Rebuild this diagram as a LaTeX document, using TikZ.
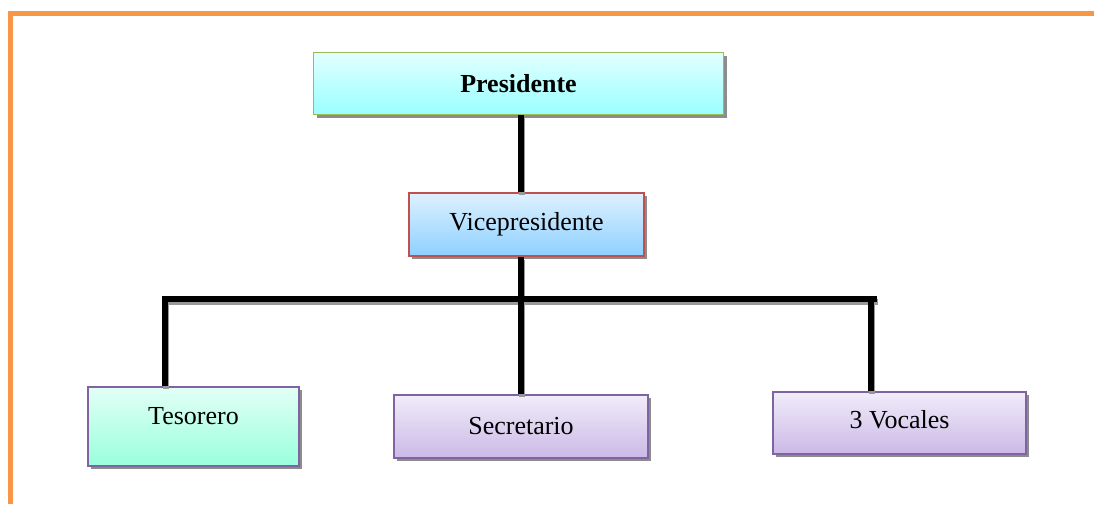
\documentclass[tikz,border=0pt]{standalone}
\usepackage{fontspec}
\setmainfont{Liberation Serif}
\usetikzlibrary{shadows}
\definecolor{frameor}{HTML}{F79646}
\definecolor{bgreen}{HTML}{9BBB59}
\definecolor{bred}{HTML}{C0504D}
\definecolor{bpurple}{HTML}{8064A2}
\definecolor{cyanT}{HTML}{E2FFFF}
\definecolor{cyanB}{HTML}{99FFFF}
\definecolor{blueT}{HTML}{DEF1FF}
\definecolor{blueB}{HTML}{8ED0FF}
\definecolor{mintT}{HTML}{E2FFF6}
\definecolor{mintB}{HTML}{99FFDD}
\definecolor{lilT}{HTML}{F1ECFA}
\definecolor{lilB}{HTML}{CBB9E6}
\tikzset{
  orgbox/.style={rectangle, inner sep=0pt, line width=1.5pt,
    font=\fontsize{26}{30}\selectfont,
    drop shadow={shadow xshift=3pt, shadow yshift=-3pt, fill=black!45, opacity=1}},
  presbox/.style={orgbox, draw=bgreen, top color=cyanT, bottom color=cyanB, font=\fontsize{26}{30}\selectfont\bfseries},
  vpbox/.style={orgbox, draw=bred, top color=blueT, bottom color=blueB},
  tesbox/.style={orgbox, draw=bpurple, top color=mintT, bottom color=mintB},
  lilbox/.style={orgbox, draw=bpurple, top color=lilT, bottom color=lilB},
  conn/.style={line width=6pt, black,
    preaction={draw=black!40, line width=6pt, transform canvas={xshift=1pt, yshift=-3pt}}},
  frameline/.style={line width=5pt, draw=frameor}
}
\begin{document}
\begin{tikzpicture}[x=1pt,y=-1pt]
\useasboundingbox (0,0) rectangle (1094,504);
\draw[frameline] (10.5,504) -- (10.5,13.5) -- (1094,13.5);

\coordinate (barL) at (162,299);
\coordinate (barR) at (877,299);
\coordinate (j1) at (165,299);
\coordinate (j2) at (521,299);
\coordinate (j3) at (871,299);

\node[presbox, minimum width=410pt, minimum height=62pt] (pres) at (518.5,83.5) {Presidente};
\node[vpbox, minimum width=235pt, minimum height=63pt] (vp) at (526.5,224.5) {Vicepresidente};
\node[tesbox, minimum width=211pt, minimum height=79pt, text depth=22pt] (tes) at (193.5,426.5) {Tesorero};
\node[lilbox, minimum width=254pt, minimum height=63pt] (sec) at (521,426.5) {Secretario};
\node[lilbox, minimum width=253pt, minimum height=62pt, text depth=8pt] (voc) at (899.5,423) {3 Vocales};

\draw[conn] (pres.south -| j2) -- (j2 |- vp.north);
\draw[conn] (vp.south -| j2) -- (j2);
\draw[conn] (barL) -- (barR);
\draw[conn] (j1) -- (j1 |- tes.north);
\draw[conn] (j2) -- (j2 |- sec.north);
\draw[conn] (j3) -- (j3 |- voc.north);
\end{tikzpicture}
\end{document}
